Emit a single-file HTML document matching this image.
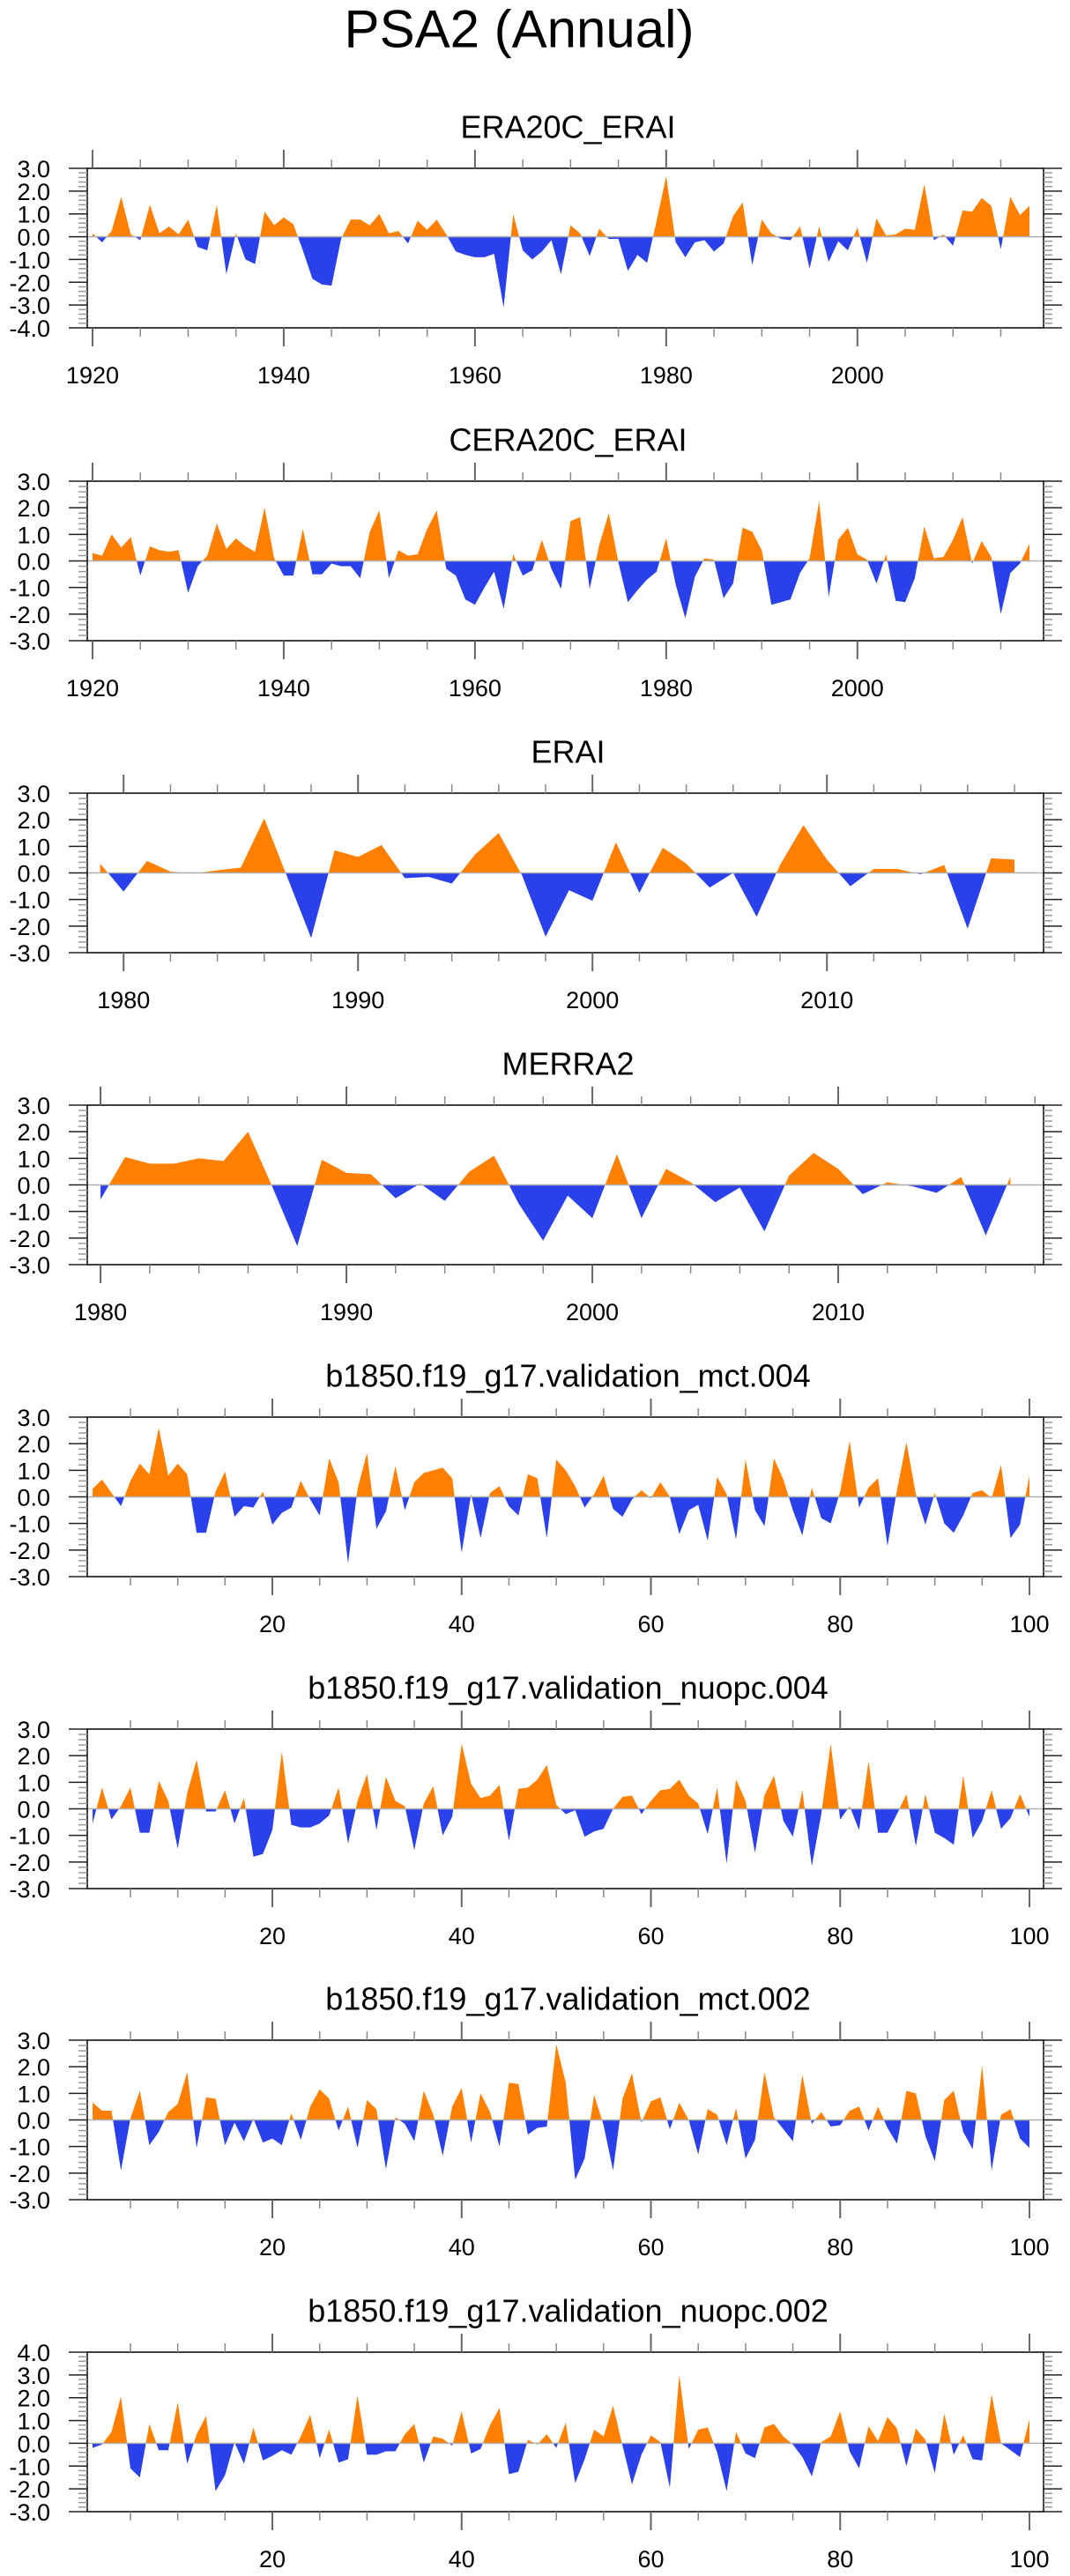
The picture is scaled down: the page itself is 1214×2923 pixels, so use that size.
<!DOCTYPE html>
<html><head><meta charset="utf-8"><title>PSA2 (Annual)</title>
<style>
html,body{margin:0;padding:0;background:#fff;}
svg{display:block;font-family:"Liberation Sans",Arial,sans-serif;}
</style></head>
<body>
<svg id="fig" width="1214" height="2923" viewBox="0 0 1214 2923" xmlns="http://www.w3.org/2000/svg">
<text x="589" y="33" text-anchor="middle" dominant-baseline="central" font-size="60">PSA2 (Annual)</text>
</svg>
<script>
// ---- data ----
const titles = ["ERA20C_ERAI","CERA20C_ERAI","ERAI","MERRA2","b1850.f19_g17.validation_mct.004","b1850.f19_g17.validation_nuopc.004","b1850.f19_g17.validation_mct.002","b1850.f19_g17.validation_nuopc.002"];
const yMinVals = [-4,-3,-3,-3,-3,-3,-3,-3];
const yMaxVals = [3,3,3,3,3,3,3,4];
const xMinVals = [1919.45,1919.45,1978.45,1979.46,0.44,0.44,0.44,0.44];
const xMaxVals = [2019.47,2019.47,2019.24,2018.35,101.49,101.49,101.49,101.49];
const xStart = [1920,1920,1979,1980,1,1,1,1];
const xMajorStep = [20,20,10,10,20,20,20,20];
const xMinorStep = [5,5,2,2,5,5,5,5];
const yTickLabels = ["-4.0","-3.0","-2.0","-1.0","0.0","1.0","2.0","3.0","4.0"];

const era20c = [0.15,-0.25,0.25,1.75,0.1,-0.15,1.4,0.15,0.45,0.1,0.75,-0.45,-0.6,1.4,-1.65,0.15,-1.0,-1.2,1.1,0.5,0.85,0.55,-0.6,-1.85,-2.1,-2.15,-0.1,0.75,0.75,0.5,1.0,0.15,0.25,-0.3,0.7,0.3,0.75,0.1,-0.65,-0.8,-0.9,-0.9,-0.75,-3.1,1.0,-0.6,-1.0,-0.65,-0.15,-1.65,0.5,0.15,-0.85,0.35,-0.1,-0.1,-1.5,-0.8,-1.15,0.7,2.65,-0.25,-0.9,-0.25,-0.15,-0.65,-0.3,0.9,1.5,-1.25,0.75,0.15,-0.1,-0.15,0.45,-1.4,0.45,-1.1,-0.2,-0.6,0.4,-1.15,0.8,0.05,0.1,0.35,0.3,2.3,-0.15,0.1,-0.4,1.15,1.1,1.7,1.35,-0.55,1.75,0.95,1.35];
const cera20c = [0.3,0.2,1.0,0.5,0.9,-0.55,0.55,0.4,0.35,0.4,-1.2,-0.2,0.2,1.4,0.45,0.85,0.55,0.35,2.0,0.1,-0.55,-0.55,1.2,-0.5,-0.5,-0.1,-0.2,-0.2,-0.65,1.1,1.9,-0.65,0.4,0.2,0.25,1.2,1.9,-0.3,-0.55,-1.45,-1.65,-1.0,-0.4,-1.8,0.25,-0.55,-0.35,0.8,-0.3,-1.05,1.5,1.65,-1.05,0.6,1.8,-0.05,-1.55,-1.1,-0.7,-0.4,0.85,-0.9,-2.15,-0.6,0.1,0.05,-1.4,-0.85,1.25,1.1,0.4,-1.65,-1.55,-1.45,-0.45,0.1,2.25,-1.35,0.8,1.25,0.25,0.05,-0.85,0.25,-1.5,-1.55,-0.65,1.3,0.1,0.15,0.8,1.65,-0.1,0.75,0.15,-2.0,-0.45,-0.1,0.65];
const erai = [0.35,-0.7,0.45,0.05,-0.02,0.1,0.2,2.05,-0.2,-2.45,0.85,0.6,1.05,-0.2,-0.15,-0.4,0.7,1.5,-0.1,-2.4,-0.65,-1.05,1.15,-0.75,0.95,0.35,-0.55,0.0,-1.65,0.3,1.8,0.5,-0.5,0.15,0.15,-0.05,0.3,-2.1,0.55,0.5];
const merra2 = [-0.55,1.05,0.8,0.8,1.0,0.9,2.0,-0.1,-2.3,0.95,0.45,0.4,-0.5,0.05,-0.6,0.5,1.1,-0.7,-2.1,-0.4,-1.25,1.15,-1.25,0.6,0.1,-0.65,-0.1,-1.75,0.35,1.2,0.6,-0.35,0.1,-0.05,-0.3,0.3,-1.9,0.3];
const mct004 = [0.3,0.65,0.15,-0.35,0.6,1.25,0.85,2.6,0.8,1.25,0.85,-1.35,-1.35,0.2,0.95,-0.75,-0.35,-0.4,0.2,-1.05,-0.6,-0.4,0.6,-0.1,-0.7,1.45,0.55,-2.5,0.3,1.65,-1.2,-0.55,1.15,-0.5,0.55,0.9,1.0,1.1,0.7,-2.1,0.1,-1.55,0.15,0.4,-0.35,-0.7,0.85,0.7,-1.55,1.4,1.0,0.4,-0.4,0.1,0.8,-0.45,-0.75,-0.1,0.25,-0.05,0.55,0.0,-1.4,-0.5,-0.3,-1.65,0.75,0.1,-1.6,1.4,-0.5,-1.1,1.45,0.65,-0.5,-1.45,0.35,-0.8,-1.0,0.2,2.1,-0.4,0.35,0.7,-1.85,0.25,2.05,0.1,-1.05,0.15,-1.0,-1.35,-0.7,0.15,0.25,-0.05,1.2,-1.55,-1.05,0.8];
const nuopc004 = [-0.55,0.8,-0.4,0.1,0.8,-0.9,-0.9,1.05,0.3,-1.5,0.6,1.85,-0.1,-0.1,0.7,-0.55,0.4,-1.8,-1.7,-0.8,2.15,-0.6,-0.7,-0.7,-0.55,-0.25,0.8,-1.3,0.3,1.3,-0.8,1.2,0.3,0.1,-1.55,0.2,0.85,-1.0,-0.3,2.45,0.95,0.4,0.5,0.9,-1.2,0.75,0.8,1.1,1.65,0.15,-0.2,-0.05,-1.05,-0.85,-0.75,0.0,0.45,0.5,-0.2,0.3,0.7,0.75,1.1,0.5,0.2,-0.95,0.8,-2.05,1.1,0.3,-1.65,0.5,1.25,-0.45,-1.05,0.7,-2.15,-0.2,2.45,-0.4,0.1,-0.8,1.8,-0.9,-0.9,-0.2,0.55,-1.4,0.55,-0.9,-1.1,-1.35,1.25,-1.1,-0.45,0.7,-0.75,-0.35,0.55,-0.3];
const mct002 = [0.65,0.35,0.35,-1.9,0.05,1.1,-0.95,-0.45,0.3,0.6,1.8,-1.05,0.85,0.8,-0.95,-0.1,-0.8,0.05,-0.85,-0.7,-0.95,0.25,-0.75,0.5,1.15,0.8,-0.4,0.5,-1.05,0.75,0.4,-1.85,0.1,-0.15,-0.8,1.1,0.2,-1.35,0.5,1.2,-0.85,1.0,0.3,-1.0,1.4,1.35,-0.55,-0.3,-0.25,2.85,1.4,-2.25,-1.45,0.95,-0.2,-1.9,0.8,1.75,-0.1,0.7,0.85,-0.35,0.65,0.0,-1.3,0.4,0.2,-0.95,0.45,-1.45,-0.75,1.8,0.1,-0.35,-0.8,1.7,-0.15,0.3,-0.25,-0.2,0.35,0.5,-0.4,0.5,-0.3,-0.9,1.1,1.0,-0.6,-1.55,0.75,1.1,-0.45,-1.1,2.05,-1.9,0.2,0.4,-0.7,-1.05];
const nuopc002 = [-0.2,-0.05,0.5,2.05,-1.1,-1.5,0.85,-0.3,-0.3,1.8,-0.9,0.4,1.2,-2.1,-1.4,0.05,-0.9,0.7,-0.75,-0.55,-0.3,-0.5,0.3,1.25,-0.65,0.6,-0.85,-0.7,2.1,-0.5,-0.5,-0.35,-0.35,0.4,0.85,-0.85,0.3,0.2,-0.1,1.4,-0.45,-0.25,0.8,1.55,-1.35,-1.25,0.15,-0.05,0.4,-0.2,0.9,-1.75,-0.7,0.6,0.3,1.65,-0.1,-1.8,-0.5,0.35,0.05,-1.95,3.0,-0.25,0.6,0.7,-0.4,-2.1,0.5,-0.45,-0.65,0.7,0.85,0.3,-0.05,-0.6,-1.45,0.05,0.3,1.4,-0.35,-1.1,0.75,0.1,1.15,0.65,-1.0,0.65,0.15,-1.3,1.3,-0.5,0.35,-0.7,-0.75,2.15,0.0,-0.3,-0.6,1.05];
const seriesList = [era20c,cera20c,erai,merra2,mct004,nuopc004,mct002,nuopc002];

// ---- drawing ----
const NS = "http://www.w3.org/2000/svg";
const svg = document.getElementById('fig');
const BOX_L = 99, BOX_R = 1184, BOX_H = 181;
function mk(tag, attrs, parent){
  const e = document.createElementNS(NS, tag);
  for (const k in attrs) e.setAttribute(k, attrs[k]);
  (parent||svg).appendChild(e);
  return e;
}
const ORANGE = "#ff8000", BLUE = "#2a40ea";

for (let p = 0; p < 8; p++) {
  const top = Math.round(192 + p*353.9) - (p===0?1:0);
  const bot = top + BOX_H;
  const ymin = yMinVals[p], ymax = yMaxVals[p];
  const xmin = xMinVals[p], xmax = xMaxVals[p];
  const X = v => BOX_L + (v - xmin) / (xmax - xmin) * (BOX_R - BOX_L);
  const Y = v => bot - (v - ymin) / (ymax - ymin) * BOX_H;
  const vals = seriesList[p];

  const g = mk('g', {});
  
  

  const t = mk('text', {x: (BOX_L+BOX_R)/2 + 3, y: top - 47, 'text-anchor': 'middle', 'dominant-baseline': 'central', 'font-size': 36}, g);
  t.textContent = titles[p];
  
  

  // clip paths
  const cid = 'c' + p;
  const defs = mk('defs', {}, g);
  const cpA = mk('clipPath', {id: cid + 'a'}, defs);
  mk('rect', {x: BOX_L, y: top, width: BOX_R - BOX_L, height: Y(0) - top}, cpA);
  const cpB = mk('clipPath', {id: cid + 'b'}, defs);
  mk('rect', {x: BOX_L, y: Y(0), width: BOX_R - BOX_L, height: bot - Y(0)}, cpB);

  let d = 'M' + X(xStart[p]).toFixed(2) + ',' + Y(0).toFixed(2);
  for (let i = 0; i < vals.length; i++) {
    d += ' L' + X(xStart[p] + i).toFixed(2) + ',' + Y(vals[i]).toFixed(2);
  }
  d += ' L' + X(xStart[p] + vals.length - 1).toFixed(2) + ',' + Y(0).toFixed(2) + ' Z';
  const pos = mk('path', {d: d, fill: ORANGE, 'clip-path': 'url(#' + cid + 'a)'}, g);
  
  
  const neg = mk('path', {d: d, fill: BLUE, 'clip-path': 'url(#' + cid + 'b)'}, g);
  
  

  const zl = mk('line', {x1: BOX_L, x2: BOX_R, y1: Y(0), y2: Y(0), stroke: '#b0b0b0', 'stroke-width': 1.5}, g);
  
  

  const box = mk('rect', {x: BOX_L, y: top, width: BOX_R - BOX_L, height: BOX_H, fill: 'none', stroke: '#000', 'stroke-width': 1.5}, g);
  
  

  // y ticks
  for (let v = ymin; v <= ymax + 1e-6; v += 0.2) {
    const vv = Math.round(v*10)/10;
    const major = Math.abs(vv - Math.round(vv)) < 1e-6;
    const yy = Y(vv);
    const len = major ? 21 : 10;
    const col = major ? '#222' : '#999';
    mk('line', {x1: BOX_L - len, x2: BOX_L, y1: yy, y2: yy, stroke: col, 'stroke-width': 1.5}, g);
    mk('line', {x1: BOX_R, x2: BOX_R + len, y1: yy, y2: yy, stroke: col, 'stroke-width': 1.5}, g);
    if (major) {
      const lab = mk('text', {x: 57, y: yy + 1, 'text-anchor': 'end', 'dominant-baseline': 'central', 'font-size': 27}, g);
      lab.textContent = yTickLabels[Math.round(vv) + 4];
      
      
    }
  }
  // x ticks
  const ms = xMinorStep[p], Ms = xMajorStep[p];
  const firstTick = Math.ceil(xmin / ms) * ms;
  for (let v = firstTick; v <= xmax; v += ms) {
    const xx = X(v);
    const major = v % Ms === 0;
    const len = major ? 21 : 10;
    const col = major ? '#666' : '#888';
    mk('line', {x1: xx, x2: xx, y1: top - len, y2: top, stroke: col, 'stroke-width': major ? 2 : 1.5}, g);
    mk('line', {x1: xx, x2: xx, y1: bot, y2: bot + len, stroke: col, 'stroke-width': major ? 2 : 1.5}, g);
    if (major) {
      const lab = mk('text', {x: xx, y: bot + 54, 'text-anchor': 'middle', 'dominant-baseline': 'central', 'font-size': 27}, g);
      lab.textContent = String(v);
      
      
    }
  }
}
</script>
</body></html>
